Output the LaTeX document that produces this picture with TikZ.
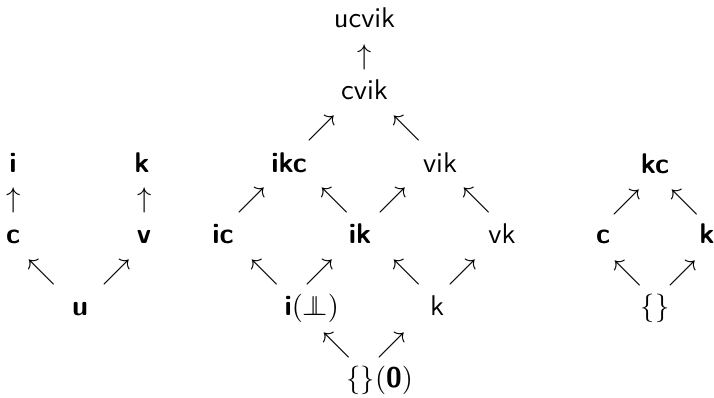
\documentclass[tikz,border=0pt]{standalone}
\begin{document}
\begin{tikzpicture}[x=0.3509pt,y=-0.3509pt,
  lbl/.style={inner sep=0pt, anchor=base, font=\sffamily},
  blbl/.style={lbl, font=\sffamily\bfseries},
  arr/.style={inner sep=0pt, anchor=center}]
\useasboundingbox (0,0) rectangle (714,397);

% left chain: u below c and v
\node[blbl] (Li) at (13,172) {i};
\node[blbl] (Lk) at (142,172) {k};
\node[blbl] (Lc) at (13,243) {c};
\node[blbl] (Lv) at (144,243) {v};
\node[blbl] (Lu) at (80,315) {u};
\node[arr] (La1) at (14,200) {$\uparrow$};
\node[arr] (La2) at (145,200) {$\uparrow$};
\node[arr] (La3) at (42,272) {$\nwarrow$};
\node[arr] (La4) at (117,272) {$\nearrow$};

% central lattice
\node[lbl] (top) at (364.5,27) {ucvik};
\node[lbl] (cvik) at (364.5,99) {cvik};
\node[blbl] (ikc) at (289,172) {ikc};
\node[lbl] (vik) at (440,172) {vik};
\node[blbl] (ic) at (223,243) {ic};
\node[blbl] (ik) at (360,243) {ik};
\node[lbl] (vk) at (502,243) {vk};
\node[lbl, anchor=base west] (iperp) at (284,315) {\textbf{i}$(\perp\kern-6.8pt\perp)$};
\node[lbl] (k) at (437,315) {k};
\node[lbl, anchor=base west] (bot) at (346,387) {$\{\}($\textbf{0}$)$};

\node[arr] (Ma0) at (365,57) {$\uparrow$};
\node[arr] (Ma1) at (322,128) {$\nearrow$};
\node[arr] (Ma2) at (407,128) {$\nwarrow$};
\node[arr] (Ma3) at (252,200) {$\nearrow$};
\node[arr] (Ma4) at (335,200) {$\nwarrow$};
\node[arr] (Ma5) at (393,200) {$\nearrow$};
\node[arr] (Ma6) at (477,200) {$\nwarrow$};
\node[arr] (Ma7) at (265,272) {$\nwarrow$};
\node[arr] (Ma8) at (320,272) {$\nearrow$};
\node[arr] (Ma9) at (407,272) {$\nwarrow$};
\node[arr] (Ma10) at (463,272) {$\nearrow$};
\node[arr] (Ma11) at (337,345) {$\nwarrow$};
\node[arr] (Ma12) at (392,345) {$\nearrow$};

% right diamond
\node[blbl] (Rkc) at (655,173) {kc};
\node[blbl] (Rc) at (603,243) {c};
\node[blbl] (Rk) at (707,243) {k};
\node[lbl] (Rb) at (655,315) {$\{\}$};
\node[arr] (Ra1) at (627,202) {$\nearrow$};
\node[arr] (Ra2) at (685,202) {$\nwarrow$};
\node[arr] (Ra3) at (628,273) {$\nwarrow$};
\node[arr] (Ra4) at (683,273) {$\nearrow$};
\end{tikzpicture}
\end{document}
